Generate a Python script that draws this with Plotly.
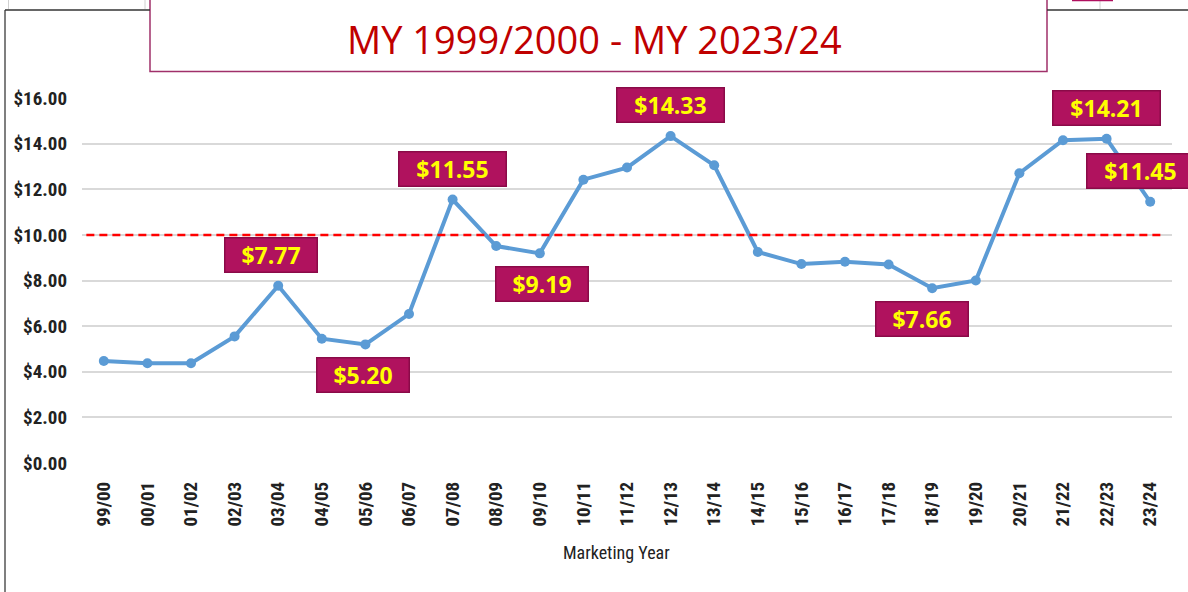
import plotly.graph_objects as go

years = ["99/00", "00/01", "01/02", "02/03", "03/04", "04/05", "05/06", "06/07",
         "07/08", "08/09", "09/10", "10/11", "11/12", "12/13", "13/14", "14/15",
         "15/16", "16/17", "17/18", "18/19", "19/20", "20/21", "21/22", "22/23", "23/24"]
prices = [4.47, 4.37, 4.37, 5.55, 7.77, 5.45, 5.20, 6.53, 11.55, 9.51, 9.19, 12.42,
          12.95, 14.33, 13.05, 9.25, 8.72, 8.82, 8.70, 7.66, 8.00, 12.70, 14.15, 14.21, 11.45]
threshold = 10.0
y_ticks = [0, 2, 4, 6, 8, 10, 12, 14, 16]
y_tick_labels = ["$%.2f" % v for v in y_ticks]
title_text = "MY 1999/2000 - MY 2023/24"
x_title = "Marketing Year"

# labelled points: (category, offset direction, xshift)
callouts = [("03/04", 1, -7), ("05/06", -1, -2), ("07/08", 1, 0), ("09/10", -1, 2),
            ("12/13", 1, 0), ("18/19", -1, -10), ("22/23", 1, 0), ("23/24", 1, -10)]

W, H = 1188, 592
L, T = 82, 98
R = W - 1172
B = H - 463
PW, PH = W - L - R, H - T - B


def px(x):
    return (x - L) / PW


def py(y):
    return (H - B - y) / PH


fig = go.Figure()
fig.add_trace(go.Scatter(
    x=years, y=prices, mode="lines+markers",
    line=dict(color="#5B9BD5", width=4),
    marker=dict(color="#5B9BD5", size=10),
    showlegend=False, hoverinfo="x+y"))

shapes = [
    dict(type="line", xref="x domain", yref="y", x0=0.004, x1=0.992, y0=threshold, y1=threshold,
         line=dict(color="#FF0000", width=2.5, dash="8px,5px")),
    # title box
    dict(type="rect", xref="paper", yref="paper", x0=px(150), x1=px(1047), y0=py(71.5), y1=py(-5),
         line=dict(color="#A0306A", width=1.5), fillcolor="white", layer="above"),
    # outer chart border
    dict(type="line", xref="paper", yref="paper", x0=px(5), x1=px(5), y0=py(10), y1=py(600),
         line=dict(color="#555555", width=1.5)),
    dict(type="line", xref="paper", yref="paper", x0=px(5), x1=px(150), y0=py(10), y1=py(10),
         line=dict(color="#333333", width=1.5)),
    dict(type="line", xref="paper", yref="paper", x0=px(1047), x1=px(1195), y0=py(10), y1=py(10),
         line=dict(color="#333333", width=1.5)),
    # sheet cell lines above chart
    dict(type="line", xref="paper", yref="paper", x0=px(8.5), x1=px(8.5), y0=py(0), y1=py(9),
         line=dict(color="#D0D0D0", width=1)),
    dict(type="line", xref="paper", yref="paper", x0=px(145), x1=px(145), y0=py(0), y1=py(9),
         line=dict(color="#D0D0D0", width=1)),
    dict(type="line", xref="paper", yref="paper", x0=px(1100), x1=px(1100), y0=py(0), y1=py(9),
         line=dict(color="#D0D0D0", width=1)),
    dict(type="line", xref="paper", yref="paper", x0=px(1072), x1=px(1113), y0=py(0.5), y1=py(0.5),
         line=dict(color="#B0105F", width=1.5)),
]

tick_family = "Liberation Sans Narrow, Roboto Condensed, Roboto, sans-serif"

annotations = [
    dict(text=title_text, xref="paper", yref="paper", x=px(594), y=py(39), showarrow=False,
         font=dict(family="Open Sans", size=38, color="#C00000"), xanchor="center", yanchor="middle"),
    dict(text=x_title, xref="paper", yref="paper", x=px(616), y=py(552), showarrow=False,
         font=dict(family=tick_family, size=18, color="#222222"), xanchor="center", yanchor="middle"),
]

for cat, direction, xs in callouts:
    v = prices[years.index(cat)]
    label = "$%.2f" % v
    annotations.append(dict(
        text="<b>%s</b>" % label, x=cat, y=v, xref="x", yref="y", showarrow=False,
        xshift=xs, yshift=31 * direction,
        font=dict(family="Open Sans", size=23, color="#FFFF00"),
        bgcolor="#B0125E", bordercolor="#8A0A48", borderwidth=1.5, borderpad=0,
        width=91 if len(label) == 5 else 106, height=33,
        xanchor="center", yanchor="middle"))

fig.update_layout(
    width=W, height=H, margin=dict(l=L, r=R, t=T, b=B, autoexpand=False),
    paper_bgcolor="white", plot_bgcolor="white",
    shapes=shapes, annotations=annotations,
    xaxis=dict(type="category", range=[-0.5, len(years) - 0.5], tickangle=-90,
               showgrid=False, showline=False, zeroline=False,
               tickfont=dict(family=tick_family, size=19, color="#222222", weight="bold"),
               ticklabelstandoff=14),
    yaxis=dict(range=[0, 16], tickvals=y_ticks, ticktext=y_tick_labels,
               showgrid=True, gridcolor="#D9D9D9", gridwidth=1.5, zeroline=False, showline=False,
               tickfont=dict(family=tick_family, size=19, color="#222222", weight="bold"),
               ticklabelstandoff=14),
)

fig.write_html("out.html", config={"displayModeBar": False},
               post_script="document.body.style.margin='0';")
